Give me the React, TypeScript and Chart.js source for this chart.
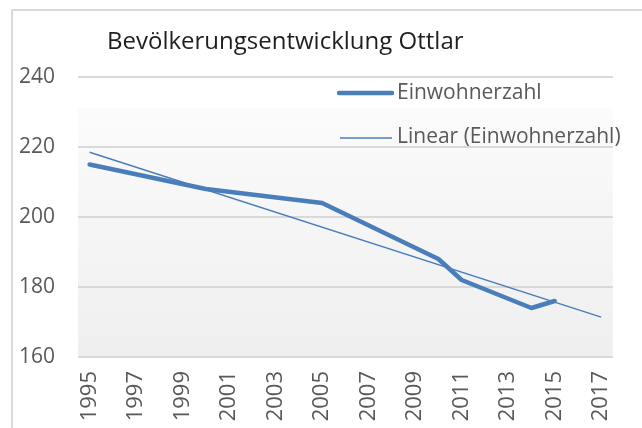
import React, { useEffect, useRef } from "react";
import { Chart, registerables } from "chart.js";

Chart.register(...registerables);

const TITLE = "Bevölkerungsentwicklung Ottlar";
const SERIES_NAME = "Einwohnerzahl";
const TREND_NAME = "Linear (Einwohnerzahl)";

const years = [
  "1995", "1996", "1997", "1998", "1999", "2000", "2001", "2002", "2003", "2004", "2005", "2006",
  "2007", "2008", "2009", "2010", "2011", "2012", "2013", "2014", "2015", "2016", "2017",
];

const population: (number | null)[] = [
  215, null, null, null, null, 208, null, null, null, null, 204, null,
  null, null, null, 188, 182, null, null, 174, 176, null, null,
];

const trend: (number | null)[] = [
  218.5, null, null, null, null, null, null, null, null, null, null, null,
  null, null, null, null, null, null, null, null, null, null, 171.4,
];

const yTicks = { min: 160, max: 240, step: 20 };

const BLUE = "#4a7ebb";
const FONT = "'Open Sans', 'DejaVu Sans', sans-serif";

const decorPlugin = {
  id: "decor",
  beforeDraw(chart: any) {
    const { ctx, chartArea, width, height } = chart;
    ctx.save();
    ctx.fillStyle = "#ffffff";
    ctx.fillRect(0, 0, width, height);
    // plot area gradient
    const gTop = chartArea.top + 31;
    const g = ctx.createLinearGradient(0, gTop, 0, chartArea.bottom);
    g.addColorStop(0, "#fbfbfb");
    g.addColorStop(1, "#efefef");
    ctx.fillStyle = g;
    ctx.fillRect(chartArea.left, gTop, chartArea.right - chartArea.left, chartArea.bottom - gTop);
    // outer border (left and top visible)
    ctx.strokeStyle = "#d9d9d9";
    ctx.lineWidth = 2;
    ctx.beginPath();
    ctx.moveTo(12, height + 2);
    ctx.lineTo(12, 10);
    ctx.lineTo(width + 2, 10);
    ctx.stroke();
    ctx.restore();
  },
  afterDraw(chart: any) {
    const { ctx } = chart;
    ctx.save();
    // title
    ctx.fillStyle = "#1f1f1f";
    ctx.font = `24px ${FONT}`;
    ctx.textBaseline = "alphabetic";
    ctx.textAlign = "left";
    ctx.fillText(TITLE, 107, 49);
    // legend
    ctx.strokeStyle = BLUE;
    ctx.lineCap = "round";
    ctx.lineWidth = 4.5;
    ctx.beginPath();
    ctx.moveTo(339, 93);
    ctx.lineTo(392, 93);
    ctx.stroke();
    ctx.lineCap = "butt";
    ctx.lineWidth = 1.5;
    ctx.beginPath();
    ctx.moveTo(340, 138);
    ctx.lineTo(392, 138);
    ctx.stroke();
    ctx.fillStyle = "#595959";
    ctx.font = `21px ${FONT}`;
    ctx.textBaseline = "middle";
    ctx.fillText(SERIES_NAME, 397, 93);
    ctx.fillText(TREND_NAME, 397, 137);
    ctx.restore();
  },
};

export default function App() {
  const ref = useRef<HTMLCanvasElement>(null);
  useEffect(() => {
    if (!ref.current) return;
    const chart = new Chart(ref.current, {
      type: "line",
      data: {
        labels: years,
        datasets: [
          {
            label: SERIES_NAME,
            data: population,
            borderColor: BLUE,
            backgroundColor: BLUE,
            borderWidth: 4.5,
            pointRadius: 0,
            spanGaps: true,
            borderJoinStyle: "round",
            borderCapStyle: "round",
            tension: 0,
          },
          {
            label: TREND_NAME,
            data: trend,
            borderColor: BLUE,
            backgroundColor: BLUE,
            borderWidth: 1.5,
            pointRadius: 0,
            spanGaps: true,
            tension: 0,
          },
        ],
      },
      options: {
        responsive: false,
        animation: false,
        events: [],
        layout: { padding: { top: 77, right: 19, left: 0, bottom: 0 } },
        plugins: {
          legend: { display: false },
          title: { display: false },
          tooltip: { enabled: false },
        },
        scales: {
          x: {
            offset: true,
            grid: { display: false, drawTicks: false },
            border: { display: false },
            ticks: {
              autoSkip: false,
              minRotation: 90,
              maxRotation: 90,
              padding: 14,
              color: "#595959",
              font: { family: FONT, size: 22 },
              callback: (_v: any, i: number) => (i % 2 === 0 ? years[i] : ""),
            },
            afterFit: (s: any) => {
              s.height = 71;
            },
          },
          y: {
            min: yTicks.min,
            max: yTicks.max,
            grid: { color: "#d9d9d9", lineWidth: 2, drawTicks: false },
            border: { display: false },
            ticks: {
              stepSize: yTicks.step,
              padding: 23,
              color: "#595959",
              font: { family: FONT, size: 21 },
            },
            afterFit: (s: any) => {
              s.width = 78;
            },
          },
        },
      },
      plugins: [decorPlugin],
    });
    return () => chart.destroy();
  }, []);
  return (
    <canvas
      ref={ref}
      width={642}
      height={428}
      style={{ display: "block", position: "fixed", left: 0, top: 0 }}
    />
  );
}
